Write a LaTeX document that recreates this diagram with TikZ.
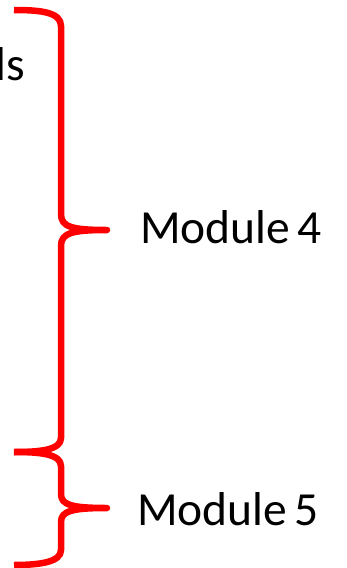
\documentclass[tikz,border=0pt]{standalone}
\usepackage{fontspec}
\setmainfont{Carlito}
\begin{document}
\begin{tikzpicture}[x=1pt,y=-1pt]
\tikzset{
  bracepath/.style={draw=red, line width=6.5pt, line cap=butt, line join=round},
  lbl/.style={font=\fontsize{47.5}{54}\selectfont, inner sep=0pt, text=black}
}
\useasboundingbox (0,0) rectangle (346,568);
% braces
\coordinate (b1top) at (14,10);
\coordinate (b1tip) at (107,230);
\coordinate (b1bot) at (14,452);
\coordinate (b2tip) at (107,508);
\coordinate (b2bot) at (14,565);
\draw[bracepath] (b1top) .. controls (40,10) and (61,12) .. (61,26) -- (61,214)
  .. controls (61,227) and (72,230) .. (b1tip)
  .. controls (72,230) and (61,233) .. (61,246) -- (61,438)
  .. controls (61,450) and (40,452) .. (b1bot);
\draw[bracepath] (b1bot) .. controls (40,452) and (61,454) .. (61,466) -- (61,494)
  .. controls (61,505) and (72,508) .. (b2tip)
  .. controls (72,508) and (61,511) .. (61,522) -- (61,550)
  .. controls (61,562) and (40,565) .. (b2bot);
% labels
\node[lbl, anchor=base east] (cut) at (25,80) {ls};
\node[lbl, anchor=base west] (m4) at (140,243) {Module\hspace{-3pt} 4};
\node[lbl, anchor=base west] (m5) at (137,525) {Module\hspace{-3pt} 5};
\end{tikzpicture}
\end{document}
